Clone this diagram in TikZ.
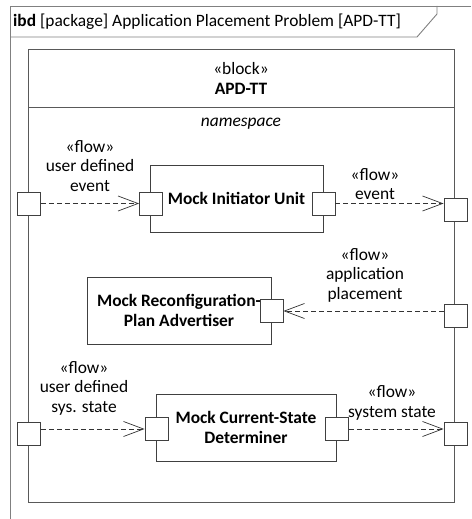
\documentclass[tikz,border=0pt]{standalone}
\usepackage{fontspec}
\setmainfont{Carlito}
\usetikzlibrary{arrows.meta}

\begin{document}
\begin{tikzpicture}[
        x=1pt, y=-1pt,
        every node/.style={font=\fontsize{17.4}{19.5}\selectfont, inner sep=0pt},
        frameline/.style={draw=black!50, line width=0.9pt},
        blockline/.style={draw=black!65, line width=0.9pt},
        part/.style={draw=black!75, line width=0.9pt, align=center, font=\fontsize{17.4}{20.5}\selectfont\bfseries},
        port/.style={draw=black!75, line width=0.9pt, fill=white, minimum width=23pt, minimum height=23pt},
        flow/.style={draw=black!80, line width=0.7pt, dash pattern=on 5pt off 3pt, -{Straight Barb[length=20pt,width=15pt]}},
        lbl/.style={align=center}
    ]
	\useasboundingbox (0,0) rectangle (471,519);
	% diagram frame and its tab
	\draw[frameline] (10,519) -- (10,6) -- (471,6);
	\draw[frameline] (10,37) -- (417,37) -- (437,14) -- (437,6);
	\node[anchor=west] (title) at (13,22) {\textbf{ibd} [package] Application Placement Problem [APD-TT]};
	% the block
	\draw[blockline] (28,49) rectangle (454,502);
	\draw[blockline] (28,107) -- (454,107);
	\node (stereo) at (241,69) {«block»};
	\node[font=\fontsize{17.4}{19.5}\selectfont\bfseries] (name) at (241,89) {APD-TT};
	\node[font=\fontsize{17.4}{19.5}\selectfont\itshape] (ns) at (241,124) {namespace};
	% parts
	\node[part, minimum width=173pt, minimum height=67pt] (init) at (236.5,198.5) {Mock Initiator Unit};
	\node[part, minimum width=184pt, minimum height=67pt] (adv) at (179,310.5) {Mock Reconfiguration-\\Plan Advertiser};
	\node[part, minimum width=180pt, minimum height=67pt] (det) at (246,427.5) {Mock Current-State\\Determiner};
	% ports
	\foreach \n/\x/\y in {evin/29/203.5, initin/151/203.5, initout/323.5/203.5, evout/455.5/209.5,
	                      advin/271.5/311, plin/455.5/316,
	                      stin/29/434, detin/156.5/429, detout/337/429, stout/455.5/434}
		{
		   \node[port] (\n) at (\x,\y) {};
		};
	% flows
	\draw[flow] (evin.east) -- (initin.west);
	\draw[flow] (initout.east) -- (initout.east -| evout.west);
	\draw[flow] (advin.east -| plin.west) -- (advin.east);
	\draw[flow] (detin.west -| stin.east) -- (detin.west);
	\draw[flow] (detout.east) -- (detout.east -| stout.west);
	% flow labels
	\node[lbl] (l1) at (90,166) {«flow»\\user defined\\event};
	\node[lbl] (l2) at (375,184) {«flow»\\event};
	\node[lbl] (l3) at (365,275) {«flow»\\application\\placement};
	\node[lbl] (l4) at (84,388) {«flow»\\user defined\\sys. state};
	\node[lbl] (l5) at (392,403) {«flow»\\system state};
\end{tikzpicture}
\end{document}
